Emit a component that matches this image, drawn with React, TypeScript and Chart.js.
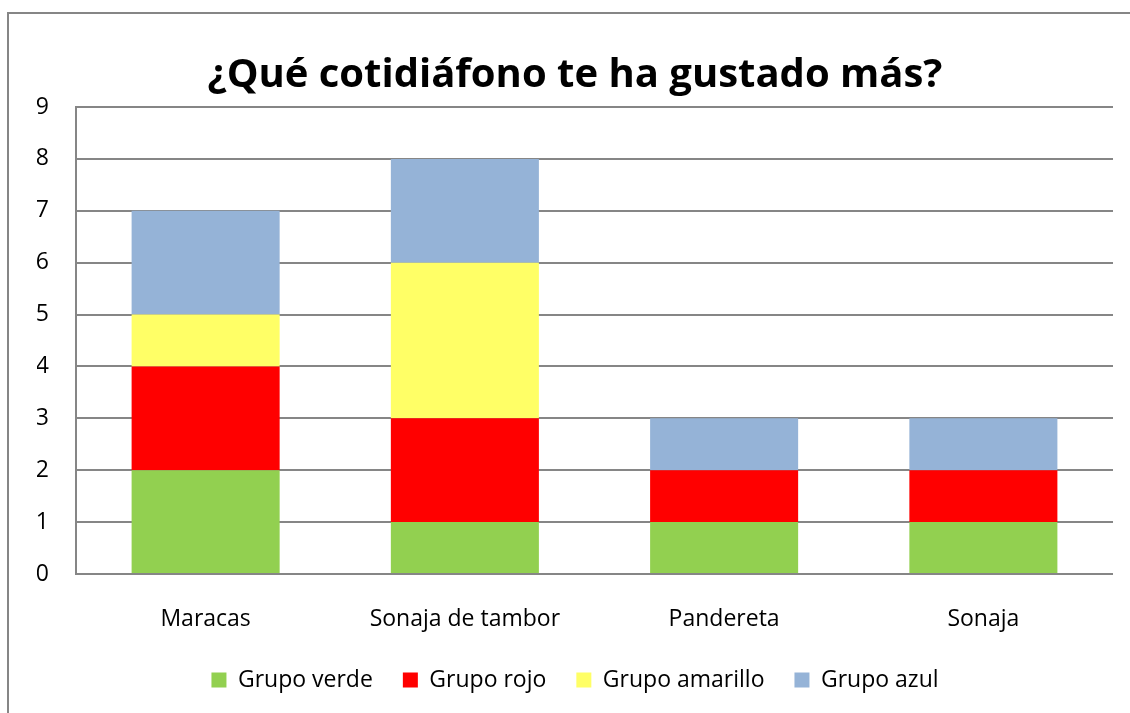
import React, { useEffect, useRef } from "react";
import { Chart, registerables } from "chart.js";
Chart.register(...registerables);

const categories = ["Maracas", "Sonaja de tambor", "Pandereta", "Sonaja"];
const seriesNames = ["Grupo verde", "Grupo rojo", "Grupo amarillo", "Grupo azul"];
const verde = [2, 1, 1, 1];
const rojo = [2, 2, 1, 1];
const amarillo = [1, 3, 0, 0];
const azul = [2, 2, 1, 1];
const colors = ["#92D050", "#FF0000", "#FFFF66", "#95B3D7"];
const yMax = 9;
const FONT = "'Open Sans'";

const borderPlugin = {
  id: "outerBorder",
  beforeDraw(chart: any) {
    const ctx = chart.ctx;
    ctx.save();
    ctx.fillStyle = "#fff";
    ctx.fillRect(0, 0, chart.width, chart.height);
    ctx.strokeStyle = "#868686";
    ctx.lineWidth = 2;
    ctx.strokeRect(8, 13, 2000, 2000);
    ctx.restore();
  },
};

export default function App() {
  const ref = useRef<HTMLCanvasElement>(null);
  useEffect(() => {
    document.body.style.margin = "0";
    const datas = [verde, rojo, amarillo, azul];
    const chart = new Chart(ref.current!, {
      type: "bar",
      data: {
        labels: categories,
        datasets: seriesNames.map((n, i) => ({
          label: n,
          data: datas[i],
          backgroundColor: colors[i],
          borderWidth: 0,
          categoryPercentage: 0.571,
          barPercentage: 1,
        })),
      },
      options: {
        animation: false,
        responsive: false,
        layout: { padding: { left: 37, right: 17, top: 13, bottom: 11.5 } },
        plugins: {
          title: {
            display: true,
            text: "¿Qué cotidiáfono te ha gustado más?",
            color: "#000",
            font: { family: FONT, size: 40, weight: "bold" },
            padding: { top: 39, bottom: 7 },
          },
          legend: {
            position: "bottom",
            labels: {
              color: "#000",
              font: { family: FONT, size: 23 },
              boxWidth: 15,
              boxHeight: 15,
              padding: 30,
            },
          },
          tooltip: { enabled: false },
        },
        scales: {
          x: {
            stacked: true,
            grid: { display: false, drawTicks: false },
            border: { display: false },
            afterFit(s: any) { s.height = 64.5; },
            ticks: { color: "#000", font: { family: FONT, size: 23 }, padding: 32, maxRotation: 0 },
          },
          y: {
            stacked: true,
            min: 0,
            max: yMax,
            afterFit(s: any) { s.width = 39; },
            ticks: { stepSize: 1, color: "#000", font: { family: FONT, size: 23 }, padding: 27 },
            grid: { color: "#868686", lineWidth: 2, drawTicks: false },
            border: { display: true, color: "#868686", width: 2 },
          },
        },
      },
      plugins: [borderPlugin],
    });
    return () => chart.destroy();
  }, []);
  return (
    <div style={{ width: 1130, height: 713 }}>
      <canvas ref={ref} width={1130} height={713} />
    </div>
  );
}
